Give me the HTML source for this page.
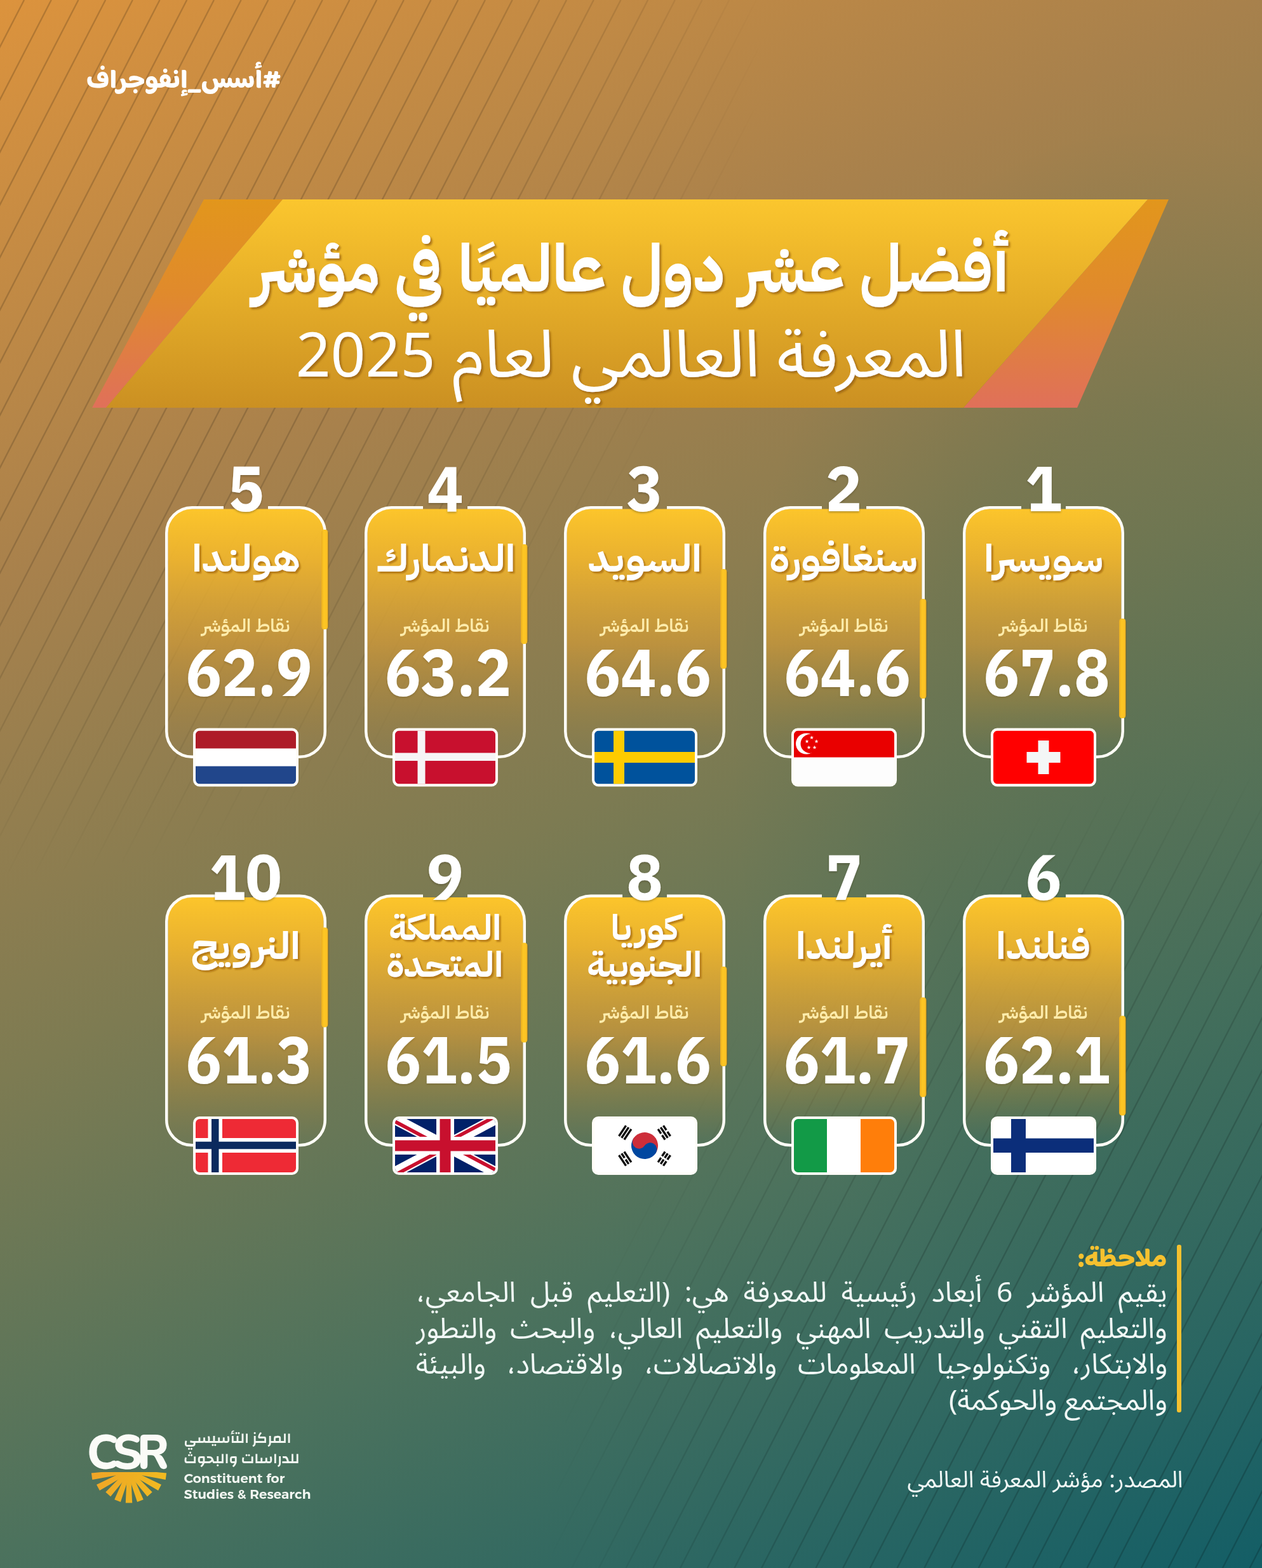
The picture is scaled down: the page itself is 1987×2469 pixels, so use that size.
<!DOCTYPE html>
<html lang="ar">
<head>
<meta charset="utf-8">
<title>أفضل عشر دول عالميًا في مؤشر المعرفة العالمي لعام 2025</title>
<style>html,body{margin:0;padding:0}body{width:1987px;height:2469px;position:relative;overflow:hidden;background:linear-gradient(155deg,#dc933d 0.0%,#a8814c 27.0%,#7d7b52 50.0%,#4c725d 72.0%,#135e66 100.0%);font-family:"Liberation Sans","DejaVu Sans",sans-serif}#bg{position:absolute;left:0;top:0;display:block}</style>
</head>
<body>
<svg id="bg" width="1987" height="2469" viewBox="0 0 1987 2469">
<defs>
<radialGradient id="lmask1" gradientUnits="userSpaceOnUse" cx="0" cy="0" r="1000" gradientTransform="scale(1.2,1.38)">
<stop offset="0" stop-color="#fff" stop-opacity="1"/><stop offset="0.6" stop-color="#fff" stop-opacity=".85"/><stop offset="0.85" stop-color="#fff" stop-opacity=".45"/><stop offset="1" stop-color="#fff" stop-opacity="0"/>
</radialGradient>
<radialGradient id="lmask2" gradientUnits="userSpaceOnUse" cx="0" cy="0" r="1000" gradientTransform="translate(1987,2469) scale(1.12,1.25)">
<stop offset="0" stop-color="#fff" stop-opacity="1"/><stop offset="0.6" stop-color="#fff" stop-opacity=".85"/><stop offset="0.85" stop-color="#fff" stop-opacity=".45"/><stop offset="1" stop-color="#fff" stop-opacity="0"/>
</radialGradient>
<mask id="lm" maskUnits="userSpaceOnUse" x="0" y="0" width="1987" height="2469"><rect width="1987" height="2469" fill="url(#lmask1)"/><rect width="1987" height="2469" fill="url(#lmask2)"/></mask>
<radialGradient id="tint" gradientUnits="userSpaceOnUse" cx="0" cy="0" r="1" gradientTransform="translate(1800,1200) scale(650,1000)"><stop offset="0" stop-color="#195a50" stop-opacity=".17"/><stop offset="0.55" stop-color="#195a50" stop-opacity=".13"/><stop offset="1" stop-color="#195a50" stop-opacity="0"/></radialGradient>
<linearGradient id="gold" x1="0" y1="0" x2="0" y2="1"><stop offset="0" stop-color="#fbc62e"/><stop offset="1" stop-color="#cb9022"/></linearGradient>
<linearGradient id="orl" x1="0" y1="0" x2="0" y2="1"><stop offset="0" stop-color="#e2961c"/><stop offset="0.45" stop-color="#e08a2c"/><stop offset="1" stop-color="#e0705a"/></linearGradient>
<linearGradient id="cardg" x1="0" y1="0" x2="0" y2="1"><stop offset="0" stop-color="#fcc52b" stop-opacity="1"/><stop offset="0.2" stop-color="#eeb42e" stop-opacity=".95"/><stop offset="0.55" stop-color="#c9973a" stop-opacity=".8"/><stop offset="0.85" stop-color="#b08a3a" stop-opacity=".25"/><stop offset="1" stop-color="#a08040" stop-opacity="0"/></linearGradient>
<linearGradient id="barg" x1="0" y1="0" x2="1" y2="0"><stop offset="0" stop-color="#e9ad22"/><stop offset="0.35" stop-color="#fdc623"/><stop offset="0.8" stop-color="#fbc224"/><stop offset="1" stop-color="#e3a421"/></linearGradient>
<linearGradient id="markg" gradientUnits="userSpaceOnUse" x1="144" y1="2318" x2="262" y2="2366"><stop offset="0" stop-color="#f0a428"/><stop offset="0.5" stop-color="#eeb022"/><stop offset="1" stop-color="#f3bd20"/></linearGradient>
<clipPath id="fclip"><rect width="158" height="84" rx="6.5"/></clipPath>
<filter id="shT" x="-5%" y="-30%" width="110%" height="170%"><feDropShadow dx="3" dy="3" stdDeviation="1.5" flood-color="#965f0a" flood-opacity=".75"/></filter>
<filter id="shN" x="-10%" y="-40%" width="125%" height="190%"><feDropShadow dx="3" dy="3" stdDeviation="1" flood-color="#aa6e0a" flood-opacity=".8"/></filter>
<filter id="shR" x="-20%" y="-20%" width="140%" height="150%"><feDropShadow dx="0" dy="2" stdDeviation="1.5" flood-color="#3c3214" flood-opacity=".35"/></filter>
<filter id="shS" x="-10%" y="-20%" width="120%" height="150%"><feDropShadow dx="0" dy="2" stdDeviation="1.5" flood-color="#5a4614" flood-opacity=".3"/></filter>
</defs>
<rect width="1987" height="2469" fill="url(#tint)"/>
<g mask="url(#lm)"><path d="M38.0,0L-1234.8,2469 M80.7,0L-1192.1,2469 M123.4,0L-1149.4,2469 M166.1,0L-1106.7,2469 M208.8,0L-1064.0,2469 M251.5,0L-1021.3,2469 M294.2,0L-978.6,2469 M336.9,0L-935.9,2469 M379.6,0L-893.2,2469 M422.3,0L-850.5,2469 M465.0,0L-807.8,2469 M507.7,0L-765.1,2469 M550.4,0L-722.4,2469 M593.1,0L-679.7,2469 M635.8,0L-637.0,2469 M678.5,0L-594.3,2469 M721.2,0L-551.6,2469 M763.9,0L-508.9,2469 M806.6,0L-466.2,2469 M849.3,0L-423.5,2469 M892.0,0L-380.8,2469 M934.7,0L-338.1,2469 M977.4,0L-295.4,2469 M1020.1,0L-252.7,2469 M1062.8,0L-210.0,2469 M1105.5,0L-167.3,2469 M1148.2,0L-124.6,2469 M1190.9,0L-81.9,2469 M1233.6,0L-39.2,2469 M1276.3,0L3.5,2469 M1319.0,0L46.2,2469 M1361.7,0L88.9,2469 M1404.4,0L131.6,2469 M1447.1,0L174.3,2469 M1489.8,0L217.0,2469 M1532.5,0L259.7,2469 M1575.2,0L302.4,2469 M1617.9,0L345.1,2469 M1660.6,0L387.8,2469 M1703.3,0L430.5,2469 M1746.0,0L473.2,2469 M1788.7,0L515.9,2469 M1831.4,0L558.6,2469 M1874.1,0L601.3,2469 M1916.8,0L644.0,2469 M1959.5,0L686.7,2469 M2002.2,0L729.4,2469 M2044.9,0L772.1,2469 M2087.6,0L814.8,2469 M2130.3,0L857.5,2469 M2173.0,0L900.2,2469 M2215.7,0L942.9,2469 M2258.4,0L985.6,2469 M2301.1,0L1028.3,2469 M2343.8,0L1071.0,2469 M2386.5,0L1113.7,2469 M2429.2,0L1156.4,2469 M2471.9,0L1199.1,2469 M2514.6,0L1241.8,2469 M2557.3,0L1284.5,2469 M2600.0,0L1327.2,2469 M2642.7,0L1369.9,2469 M2685.4,0L1412.6,2469 M2728.1,0L1455.3,2469 M2770.8,0L1498.0,2469 M2813.5,0L1540.7,2469 M2856.2,0L1583.4,2469 M2898.9,0L1626.1,2469 M2941.6,0L1668.8,2469 M2984.3,0L1711.5,2469 M3027.0,0L1754.2,2469 M3069.7,0L1796.9,2469 M3112.4,0L1839.6,2469 M3155.1,0L1882.3,2469 M3197.8,0L1925.0,2469 M3240.5,0L1967.7,2469 M3283.2,0L2010.4,2469" fill="none" stroke="#000" stroke-opacity=".18" stroke-width="2.4"/></g>
<g id="banner">
<polygon points="321,314 445,314 167,642 145,642" fill="url(#orl)"/>
<polygon points="1807,314 1840,314 1696,642 1517,642" fill="url(#orl)"/>
<polygon points="445,314 1807,314 1517,642 167,642" fill="url(#gold)"/>
</g>
<rect x="1853" y="1960" width="7" height="264" rx="3" fill="#f6c12f"/>
<g id="mark" fill="url(#markg)"><clipPath id="mclip"><rect x="140" y="2318" width="126" height="60"/></clipPath><g clip-path="url(#mclip)"><polygon points="197.5,2320.5 145.3,2329.9 143.9,2319.6 196.6,2314.2"/><polygon points="199.2,2322.1 156.9,2346.9 152.0,2337.7 196.2,2316.5"/><polygon points="201.4,2323.1 174.1,2356.4 166.3,2349.4 196.6,2318.8"/><polygon points="203.8,2323.2 189.9,2365.0 180.2,2361.3 197.9,2321.0"/><polygon points="206.2,2322.5 208.2,2366.5 197.8,2366.5 199.8,2322.5"/><polygon points="208.1,2321.0 225.8,2361.3 216.1,2365.0 202.2,2323.2"/><polygon points="209.4,2318.8 239.7,2349.4 231.9,2356.4 204.6,2323.1"/><polygon points="209.8,2316.5 254.0,2337.7 249.1,2346.9 206.8,2322.1"/><polygon points="209.4,2314.2 262.1,2319.6 260.7,2329.9 208.5,2320.5"/><path d="M187,2317.5 A16,17 0 0 0 219,2317.5 Z"/></g></g>
<g transform="translate(1516,797)">
<rect x="4.5" y="4.5" width="245.0" height="388.0" rx="35.5" ry="35.5" fill="url(#cardg)"/>
<path d="M162.0,2.25 H211.75 A40,40 0 0 1 251.75,42.25 V354.75 A40,40 0 0 1 211.75,394.75 H42.25 A40,40 0 0 1 2.25,354.75 V42.25 A40,40 0 0 1 42.25,2.25 H92.0" fill="none" stroke="#fffdf6" stroke-width="4.5"/>
<rect x="255.5" y="181" width="2.5" height="150" fill="#5a4a10" fill-opacity=".28"/><rect x="246" y="177" width="10.5" height="157" rx="4.5" fill="url(#barg)"/>
<g transform="translate(44,349.5)"><rect width="166" height="92" rx="10" fill="#fffdf8"/><g transform="translate(4,4)" clip-path="url(#fclip)"><rect width="158" height="84" fill="#ff0000"/><rect x="70.5" y="15.5" width="17" height="53" fill="#f4f6f6"/><rect x="52.5" y="33.5" width="53" height="17" fill="#f4f6f6"/></g></g>
</g>
<g transform="translate(1202,797)">
<rect x="4.5" y="4.5" width="245.0" height="388.0" rx="35.5" ry="35.5" fill="url(#cardg)"/>
<path d="M162.0,2.25 H211.75 A40,40 0 0 1 251.75,42.25 V354.75 A40,40 0 0 1 211.75,394.75 H42.25 A40,40 0 0 1 2.25,354.75 V42.25 A40,40 0 0 1 42.25,2.25 H92.0" fill="none" stroke="#fffdf6" stroke-width="4.5"/>
<rect x="255.5" y="150" width="2.5" height="150" fill="#5a4a10" fill-opacity=".28"/><rect x="246" y="146" width="10.5" height="157" rx="4.5" fill="url(#barg)"/>
<g transform="translate(44,349.5)"><rect width="166" height="92" rx="10" fill="#fffdf8"/><g transform="translate(4,4)" clip-path="url(#fclip)"><rect width="158" height="84" fill="#fdfdfd"/><rect width="158" height="42" fill="#e90000"/><circle cx="19.5" cy="20.5" r="16.5" fill="#fff"/><circle cx="25.5" cy="20.5" r="15" fill="#e90000"/><g fill="#fff"><path transform="translate(28,11)" d="M0,-3.2L0.85,-1.05L3.05,-1L1.3,0.35L1.9,2.6L0,1.3L-1.9,2.6L-1.3,0.35L-3.05,-1L-0.85,-1.05Z"/><path transform="translate(20.5,17)" d="M0,-3.2L0.85,-1.05L3.05,-1L1.3,0.35L1.9,2.6L0,1.3L-1.9,2.6L-1.3,0.35L-3.05,-1L-0.85,-1.05Z"/><path transform="translate(35.5,17)" d="M0,-3.2L0.85,-1.05L3.05,-1L1.3,0.35L1.9,2.6L0,1.3L-1.9,2.6L-1.3,0.35L-3.05,-1L-0.85,-1.05Z"/><path transform="translate(23.5,26.5)" d="M0,-3.2L0.85,-1.05L3.05,-1L1.3,0.35L1.9,2.6L0,1.3L-1.9,2.6L-1.3,0.35L-3.05,-1L-0.85,-1.05Z"/><path transform="translate(32.5,26.5)" d="M0,-3.2L0.85,-1.05L3.05,-1L1.3,0.35L1.9,2.6L0,1.3L-1.9,2.6L-1.3,0.35L-3.05,-1L-0.85,-1.05Z"/></g></g></g>
</g>
<g transform="translate(888,797)">
<rect x="4.5" y="4.5" width="245.0" height="388.0" rx="35.5" ry="35.5" fill="url(#cardg)"/>
<path d="M162.0,2.25 H211.75 A40,40 0 0 1 251.75,42.25 V354.75 A40,40 0 0 1 211.75,394.75 H42.25 A40,40 0 0 1 2.25,354.75 V42.25 A40,40 0 0 1 42.25,2.25 H92.0" fill="none" stroke="#fffdf6" stroke-width="4.5"/>
<rect x="255.5" y="103" width="2.5" height="150" fill="#5a4a10" fill-opacity=".28"/><rect x="246" y="99" width="10.5" height="157" rx="4.5" fill="url(#barg)"/>
<g transform="translate(44,349.5)"><rect width="166" height="92" rx="10" fill="#fffdf8"/><g transform="translate(4,4)" clip-path="url(#fclip)"><rect width="158" height="84" fill="#00529c"/><rect x="30" width="17" height="84" fill="#fecb00"/><rect y="33.5" width="158" height="17" fill="#fecb00"/></g></g>
</g>
<g transform="translate(574,797)">
<rect x="4.5" y="4.5" width="245.0" height="388.0" rx="35.5" ry="35.5" fill="url(#cardg)"/>
<path d="M162.0,2.25 H211.75 A40,40 0 0 1 251.75,42.25 V354.75 A40,40 0 0 1 211.75,394.75 H42.25 A40,40 0 0 1 2.25,354.75 V42.25 A40,40 0 0 1 42.25,2.25 H92.0" fill="none" stroke="#fffdf6" stroke-width="4.5"/>
<rect x="255.5" y="64" width="2.5" height="150" fill="#5a4a10" fill-opacity=".28"/><rect x="246" y="60" width="10.5" height="157" rx="4.5" fill="url(#barg)"/>
<g transform="translate(44,349.5)"><rect width="166" height="92" rx="10" fill="#fffdf8"/><g transform="translate(4,4)" clip-path="url(#fclip)"><rect width="158" height="84" fill="#c8102e"/><rect x="35.5" width="12" height="84" fill="#f6f4f6"/><rect y="35" width="158" height="12.5" fill="#f6f4f6"/></g></g>
</g>
<g transform="translate(260,797)">
<rect x="4.5" y="4.5" width="245.0" height="388.0" rx="35.5" ry="35.5" fill="url(#cardg)"/>
<path d="M162.0,2.25 H211.75 A40,40 0 0 1 251.75,42.25 V354.75 A40,40 0 0 1 211.75,394.75 H42.25 A40,40 0 0 1 2.25,354.75 V42.25 A40,40 0 0 1 42.25,2.25 H92.0" fill="none" stroke="#fffdf6" stroke-width="4.5"/>
<rect x="255.5" y="41" width="2.5" height="150" fill="#5a4a10" fill-opacity=".28"/><rect x="246" y="37" width="10.5" height="157" rx="4.5" fill="url(#barg)"/>
<g transform="translate(44,349.5)"><rect width="166" height="92" rx="10" fill="#fffdf8"/><g transform="translate(4,4)" clip-path="url(#fclip)"><rect width="158" height="84" fill="#fff"/><rect width="158" height="28" fill="#ae1c28"/><rect y="56" width="158" height="28" fill="#21468b"/></g></g>
</g>
<g transform="translate(1516,1408.5)">
<rect x="4.5" y="4.5" width="245.0" height="388.0" rx="35.5" ry="35.5" fill="url(#cardg)"/>
<path d="M162.0,2.25 H211.75 A40,40 0 0 1 251.75,42.25 V354.75 A40,40 0 0 1 211.75,394.75 H42.25 A40,40 0 0 1 2.25,354.75 V42.25 A40,40 0 0 1 42.25,2.25 H92.0" fill="none" stroke="#fffdf6" stroke-width="4.5"/>
<rect x="255.5" y="195" width="2.5" height="150" fill="#5a4a10" fill-opacity=".28"/><rect x="246" y="191" width="10.5" height="157" rx="4.5" fill="url(#barg)"/>
<g transform="translate(44,349.5)"><rect width="166" height="92" rx="10" fill="#fffdf8"/><g transform="translate(4,4)" clip-path="url(#fclip)"><rect width="158" height="84" fill="#fff"/><rect x="28" width="23" height="84" fill="#0b2e7a"/><rect y="30.5" width="158" height="22.5" fill="#0b2e7a"/></g></g>
</g>
<g transform="translate(1202,1408.5)">
<rect x="4.5" y="4.5" width="245.0" height="388.0" rx="35.5" ry="35.5" fill="url(#cardg)"/>
<path d="M162.0,2.25 H211.75 A40,40 0 0 1 251.75,42.25 V354.75 A40,40 0 0 1 211.75,394.75 H42.25 A40,40 0 0 1 2.25,354.75 V42.25 A40,40 0 0 1 42.25,2.25 H92.0" fill="none" stroke="#fffdf6" stroke-width="4.5"/>
<rect x="255.5" y="166" width="2.5" height="150" fill="#5a4a10" fill-opacity=".28"/><rect x="246" y="162" width="10.5" height="157" rx="4.5" fill="url(#barg)"/>
<g transform="translate(44,349.5)"><rect width="166" height="92" rx="10" fill="#fffdf8"/><g transform="translate(4,4)" clip-path="url(#fclip)"><rect width="158" height="84" fill="#fff"/><rect width="52" height="84" fill="#129a47"/><rect x="105" width="53" height="84" fill="#ff7e0a"/></g></g>
</g>
<g transform="translate(888,1408.5)">
<rect x="4.5" y="4.5" width="245.0" height="388.0" rx="35.5" ry="35.5" fill="url(#cardg)"/>
<path d="M162.0,2.25 H211.75 A40,40 0 0 1 251.75,42.25 V354.75 A40,40 0 0 1 211.75,394.75 H42.25 A40,40 0 0 1 2.25,354.75 V42.25 A40,40 0 0 1 42.25,2.25 H92.0" fill="none" stroke="#fffdf6" stroke-width="4.5"/>
<rect x="255.5" y="117.5" width="2.5" height="150" fill="#5a4a10" fill-opacity=".28"/><rect x="246" y="113.5" width="10.5" height="157" rx="4.5" fill="url(#barg)"/>
<g transform="translate(44,349.5)"><rect width="166" height="92" rx="10" fill="#fffdf8"/><g transform="translate(4,4)" clip-path="url(#fclip)"><rect width="158" height="84" fill="#fff"/>
<g transform="translate(79,42)">
<g transform="rotate(33.7)"><path d="M-21,0 A21,21 0 0 1 21,0 Z" fill="#cd2e3a"/><path d="M-21,0 A21,21 0 0 0 21,0 Z" fill="#0047a0"/><circle cx="-10.5" cy="0" r="10.5" fill="#cd2e3a"/><circle cx="10.5" cy="0" r="10.5" fill="#0047a0"/></g>
<g stroke="#111" stroke-width="3.4">
<g transform="rotate(33.7)"><path d="M-42,-10V10M-37,-10V10M-32,-10V10"/><path d="M32,-10V-1.5M32,1.5V10M37,-10V-1.5M37,1.5V10M42,-10V-1.5M42,1.5V10"/></g>
<g transform="rotate(-33.7)"><path d="M-42,-10V10M-37,-10V-1.5M-37,1.5V10M-32,-10V10"/><path d="M32,-10V-1.5M32,1.5V10M37,-10V10M42,-10V-1.5M42,1.5V10"/></g>
</g></g></g></g>
</g>
<g transform="translate(574,1408.5)">
<rect x="4.5" y="4.5" width="245.0" height="388.0" rx="35.5" ry="35.5" fill="url(#cardg)"/>
<path d="M162.0,2.25 H211.75 A40,40 0 0 1 251.75,42.25 V354.75 A40,40 0 0 1 211.75,394.75 H42.25 A40,40 0 0 1 2.25,354.75 V42.25 A40,40 0 0 1 42.25,2.25 H92.0" fill="none" stroke="#fffdf6" stroke-width="4.5"/>
<rect x="255.5" y="80" width="2.5" height="150" fill="#5a4a10" fill-opacity=".28"/><rect x="246" y="76" width="10.5" height="157" rx="4.5" fill="url(#barg)"/>
<g transform="translate(44,349.5)"><rect width="166" height="92" rx="10" fill="#fffdf8"/><g transform="translate(4,4)" clip-path="url(#fclip)"><rect width="158" height="84" fill="#012169"/>
<path d="M0,0L158,84M158,0L0,84" stroke="#fff" stroke-width="17"/>
<path d="M0,0L79,42" stroke="#c8102e" stroke-width="5.6" transform="translate(-2.6,2.6)"/>
<path d="M79,42L158,84" stroke="#c8102e" stroke-width="5.6" transform="translate(2.6,-2.6)"/>
<path d="M158,0L79,42" stroke="#c8102e" stroke-width="5.6" transform="translate(-2.6,-2.6)"/>
<path d="M79,42L0,84" stroke="#c8102e" stroke-width="5.6" transform="translate(2.6,2.6)"/>
<path d="M79,0V84M0,42H158" stroke="#fff" stroke-width="28"/>
<path d="M79,0V84M0,42H158" stroke="#c8102e" stroke-width="17"/></g></g>
</g>
<g transform="translate(260,1408.5)">
<rect x="4.5" y="4.5" width="245.0" height="388.0" rx="35.5" ry="35.5" fill="url(#cardg)"/>
<path d="M162.0,2.25 H211.75 A40,40 0 0 1 251.75,42.25 V354.75 A40,40 0 0 1 211.75,394.75 H42.25 A40,40 0 0 1 2.25,354.75 V42.25 A40,40 0 0 1 42.25,2.25 H92.0" fill="none" stroke="#fffdf6" stroke-width="4.5"/>
<rect x="255.5" y="56" width="2.5" height="150" fill="#5a4a10" fill-opacity=".28"/><rect x="246" y="52" width="10.5" height="157" rx="4.5" fill="url(#barg)"/>
<g transform="translate(44,349.5)"><rect width="166" height="92" rx="10" fill="#fffdf8"/><g transform="translate(4,4)" clip-path="url(#fclip)"><rect width="158" height="84" fill="#ee2a35"/><rect x="19.5" width="22.5" height="84" fill="#fff"/><rect y="30" width="158" height="23" fill="#fff"/><rect x="25" width="11.5" height="84" fill="#0b2a5e"/><rect y="35.7" width="158" height="11.6" fill="#0b2a5e"/></g></g>
</g>
<text id="hash" x="289.0" y="137.5" text-anchor="middle" direction="rtl" font-family="'Baloo Bhaijaan 2','Cairo','IBM Plex Sans Arabic','Liberation Sans','DejaVu Sans',sans-serif" font-weight="800" font-size="41.1" fill="#fff" textLength="307.2" lengthAdjust="spacingAndGlyphs">#أسس_إنفوجراف</text>
<text id="t1" x="993.5" y="459.0" text-anchor="middle" direction="rtl" font-family="'IBM Plex Sans Arabic','Noto Sans Arabic','Liberation Sans','DejaVu Sans',sans-serif" font-weight="700" font-size="103.5" fill="#fff" textLength="1189.9" lengthAdjust="spacingAndGlyphs" filter="url(#shT)">أفضل عشر دول عالميًا في مؤشر</text>
<text id="t2" x="993.5" y="593.0" text-anchor="middle" direction="rtl" font-family="'Noto Sans Arabic','IBM Plex Sans Arabic','Liberation Sans','DejaVu Sans',sans-serif" font-weight="400" font-size="103" fill="#fff" textLength="1055.6" lengthAdjust="spacingAndGlyphs" filter="url(#shT)">المعرفة العالمي لعام <tspan font-size="96">2025</tspan></text>
<text id="r1" x="1643.0" y="805.0" text-anchor="middle" font-family="'IBM Plex Sans Arabic','Noto Sans Arabic','Liberation Sans','DejaVu Sans',sans-serif" font-weight="700" font-size="100.5" fill="#fff" textLength="58.1" lengthAdjust="spacingAndGlyphs" filter="url(#shR)">1</text>
<text id="n1" x="1643.0" y="900.0" text-anchor="middle" direction="rtl" font-family="'IBM Plex Sans Arabic','Noto Sans Arabic','Liberation Sans','DejaVu Sans',sans-serif" font-weight="700" font-size="59" fill="#fff" textLength="187.3" lengthAdjust="spacingAndGlyphs" filter="url(#shN)">سويسرا</text>
<text id="l1" x="1643.0" y="995.0" text-anchor="middle" direction="rtl" font-family="'IBM Plex Sans Arabic','Noto Sans Arabic','Liberation Sans','DejaVu Sans',sans-serif" font-weight="600" font-size="28.5" fill="#ffecab" textLength="138.6" lengthAdjust="spacingAndGlyphs">نقاط المؤشر</text>
<text id="s1" x="1648.0" y="1096.0" text-anchor="middle" font-family="'IBM Plex Sans Arabic','Noto Sans Arabic','Liberation Sans','DejaVu Sans',sans-serif" font-weight="700" font-size="104.5" fill="#fff" textLength="199.7" lengthAdjust="spacingAndGlyphs" filter="url(#shS)">67.8</text>
<text id="r2" x="1328.5" y="805.0" text-anchor="middle" font-family="'IBM Plex Sans Arabic','Noto Sans Arabic','Liberation Sans','DejaVu Sans',sans-serif" font-weight="700" font-size="100.5" fill="#fff" textLength="57.9" lengthAdjust="spacingAndGlyphs" filter="url(#shR)">2</text>
<text id="n2" x="1328.5" y="900.0" text-anchor="middle" direction="rtl" font-family="'IBM Plex Sans Arabic','Noto Sans Arabic','Liberation Sans','DejaVu Sans',sans-serif" font-weight="700" font-size="59" fill="#fff" textLength="231.8" lengthAdjust="spacingAndGlyphs" filter="url(#shN)">سنغافورة</text>
<text id="l2" x="1329.0" y="995.0" text-anchor="middle" direction="rtl" font-family="'IBM Plex Sans Arabic','Noto Sans Arabic','Liberation Sans','DejaVu Sans',sans-serif" font-weight="600" font-size="28.5" fill="#ffecab" textLength="138.6" lengthAdjust="spacingAndGlyphs">نقاط المؤشر</text>
<text id="s2" x="1334.0" y="1096.0" text-anchor="middle" font-family="'IBM Plex Sans Arabic','Noto Sans Arabic','Liberation Sans','DejaVu Sans',sans-serif" font-weight="700" font-size="104.5" fill="#fff" textLength="199.7" lengthAdjust="spacingAndGlyphs" filter="url(#shS)">64.6</text>
<text id="r3" x="1015.0" y="805.0" text-anchor="middle" font-family="'IBM Plex Sans Arabic','Noto Sans Arabic','Liberation Sans','DejaVu Sans',sans-serif" font-weight="700" font-size="100.5" fill="#fff" textLength="56.9" lengthAdjust="spacingAndGlyphs" filter="url(#shR)">3</text>
<text id="n3" x="1015.0" y="900.0" text-anchor="middle" direction="rtl" font-family="'IBM Plex Sans Arabic','Noto Sans Arabic','Liberation Sans','DejaVu Sans',sans-serif" font-weight="700" font-size="59" fill="#fff" textLength="179.2" lengthAdjust="spacingAndGlyphs" filter="url(#shN)">السويد</text>
<text id="l3" x="1015.0" y="995.0" text-anchor="middle" direction="rtl" font-family="'IBM Plex Sans Arabic','Noto Sans Arabic','Liberation Sans','DejaVu Sans',sans-serif" font-weight="600" font-size="28.5" fill="#ffecab" textLength="138.6" lengthAdjust="spacingAndGlyphs">نقاط المؤشر</text>
<text id="s3" x="1020.0" y="1096.0" text-anchor="middle" font-family="'IBM Plex Sans Arabic','Noto Sans Arabic','Liberation Sans','DejaVu Sans',sans-serif" font-weight="700" font-size="104.5" fill="#fff" textLength="199.7" lengthAdjust="spacingAndGlyphs" filter="url(#shS)">64.6</text>
<text id="r4" x="701.0" y="805.0" text-anchor="middle" font-family="'IBM Plex Sans Arabic','Noto Sans Arabic','Liberation Sans','DejaVu Sans',sans-serif" font-weight="700" font-size="100.5" fill="#fff" textLength="58.1" lengthAdjust="spacingAndGlyphs" filter="url(#shR)">4</text>
<text id="n4" x="701.5" y="900.0" text-anchor="middle" direction="rtl" font-family="'IBM Plex Sans Arabic','Noto Sans Arabic','Liberation Sans','DejaVu Sans',sans-serif" font-weight="700" font-size="59" fill="#fff" textLength="219.2" lengthAdjust="spacingAndGlyphs" filter="url(#shN)">الدنمارك</text>
<text id="l4" x="701.0" y="995.0" text-anchor="middle" direction="rtl" font-family="'IBM Plex Sans Arabic','Noto Sans Arabic','Liberation Sans','DejaVu Sans',sans-serif" font-weight="600" font-size="28.5" fill="#ffecab" textLength="138.6" lengthAdjust="spacingAndGlyphs">نقاط المؤشر</text>
<text id="s4" x="705.5" y="1096.0" text-anchor="middle" font-family="'IBM Plex Sans Arabic','Noto Sans Arabic','Liberation Sans','DejaVu Sans',sans-serif" font-weight="700" font-size="104.5" fill="#fff" textLength="199.6" lengthAdjust="spacingAndGlyphs" filter="url(#shS)">63.2</text>
<text id="r5" x="387.5" y="805.0" text-anchor="middle" font-family="'IBM Plex Sans Arabic','Noto Sans Arabic','Liberation Sans','DejaVu Sans',sans-serif" font-weight="700" font-size="100.5" fill="#fff" textLength="56.8" lengthAdjust="spacingAndGlyphs" filter="url(#shR)">5</text>
<text id="n5" x="387.0" y="900.0" text-anchor="middle" direction="rtl" font-family="'IBM Plex Sans Arabic','Noto Sans Arabic','Liberation Sans','DejaVu Sans',sans-serif" font-weight="700" font-size="59" fill="#fff" textLength="169.7" lengthAdjust="spacingAndGlyphs" filter="url(#shN)">هولندا</text>
<text id="l5" x="387.0" y="995.0" text-anchor="middle" direction="rtl" font-family="'IBM Plex Sans Arabic','Noto Sans Arabic','Liberation Sans','DejaVu Sans',sans-serif" font-weight="600" font-size="28.5" fill="#ffecab" textLength="138.6" lengthAdjust="spacingAndGlyphs">نقاط المؤشر</text>
<text id="s5" x="392.0" y="1096.0" text-anchor="middle" font-family="'IBM Plex Sans Arabic','Noto Sans Arabic','Liberation Sans','DejaVu Sans',sans-serif" font-weight="700" font-size="104.5" fill="#fff" textLength="199.7" lengthAdjust="spacingAndGlyphs" filter="url(#shS)">62.9</text>
<text id="r6" x="1643.0" y="1417.0" text-anchor="middle" font-family="'IBM Plex Sans Arabic','Noto Sans Arabic','Liberation Sans','DejaVu Sans',sans-serif" font-weight="700" font-size="100.5" fill="#fff" textLength="56.9" lengthAdjust="spacingAndGlyphs" filter="url(#shR)">6</text>
<text id="n6" x="1642.5" y="1510.0" text-anchor="middle" direction="rtl" font-family="'IBM Plex Sans Arabic','Noto Sans Arabic','Liberation Sans','DejaVu Sans',sans-serif" font-weight="700" font-size="59" fill="#fff" textLength="148.4" lengthAdjust="spacingAndGlyphs" filter="url(#shN)">فنلندا</text>
<text id="l6" x="1643.0" y="1604.0" text-anchor="middle" direction="rtl" font-family="'IBM Plex Sans Arabic','Noto Sans Arabic','Liberation Sans','DejaVu Sans',sans-serif" font-weight="600" font-size="28.5" fill="#ffecab" textLength="138.6" lengthAdjust="spacingAndGlyphs">نقاط المؤشر</text>
<text id="s6" x="1648.0" y="1706.0" text-anchor="middle" font-family="'IBM Plex Sans Arabic','Noto Sans Arabic','Liberation Sans','DejaVu Sans',sans-serif" font-weight="700" font-size="104.5" fill="#fff" textLength="199.9" lengthAdjust="spacingAndGlyphs" filter="url(#shS)">62.1</text>
<text id="r7" x="1329.0" y="1417.0" text-anchor="middle" font-family="'IBM Plex Sans Arabic','Noto Sans Arabic','Liberation Sans','DejaVu Sans',sans-serif" font-weight="700" font-size="100.5" fill="#fff" textLength="57.9" lengthAdjust="spacingAndGlyphs" filter="url(#shR)">7</text>
<text id="n7" x="1329.0" y="1510.0" text-anchor="middle" direction="rtl" font-family="'IBM Plex Sans Arabic','Noto Sans Arabic','Liberation Sans','DejaVu Sans',sans-serif" font-weight="700" font-size="59" fill="#fff" textLength="151.9" lengthAdjust="spacingAndGlyphs" filter="url(#shN)">أيرلندا</text>
<text id="l7" x="1329.0" y="1604.0" text-anchor="middle" direction="rtl" font-family="'IBM Plex Sans Arabic','Noto Sans Arabic','Liberation Sans','DejaVu Sans',sans-serif" font-weight="600" font-size="28.5" fill="#ffecab" textLength="138.6" lengthAdjust="spacingAndGlyphs">نقاط المؤشر</text>
<text id="s7" x="1333.5" y="1706.0" text-anchor="middle" font-family="'IBM Plex Sans Arabic','Noto Sans Arabic','Liberation Sans','DejaVu Sans',sans-serif" font-weight="700" font-size="104.5" fill="#fff" textLength="199.6" lengthAdjust="spacingAndGlyphs" filter="url(#shS)">61.7</text>
<text id="r8" x="1015.0" y="1417.0" text-anchor="middle" font-family="'IBM Plex Sans Arabic','Noto Sans Arabic','Liberation Sans','DejaVu Sans',sans-serif" font-weight="700" font-size="100.5" fill="#fff" textLength="58.0" lengthAdjust="spacingAndGlyphs" filter="url(#shR)">8</text>
<text id="n8a" x="1015.0" y="1480.0" text-anchor="middle" direction="rtl" font-family="'IBM Plex Sans Arabic','Noto Sans Arabic','Liberation Sans','DejaVu Sans',sans-serif" font-weight="700" font-size="55" fill="#fff" textLength="107.0" lengthAdjust="spacingAndGlyphs" filter="url(#shN)">كوريا</text>
<text id="n8b" x="1014.5" y="1538.0" text-anchor="middle" direction="rtl" font-family="'IBM Plex Sans Arabic','Noto Sans Arabic','Liberation Sans','DejaVu Sans',sans-serif" font-weight="700" font-size="55" fill="#fff" textLength="180.8" lengthAdjust="spacingAndGlyphs" filter="url(#shN)">الجنوبية</text>
<text id="l8" x="1015.0" y="1604.0" text-anchor="middle" direction="rtl" font-family="'IBM Plex Sans Arabic','Noto Sans Arabic','Liberation Sans','DejaVu Sans',sans-serif" font-weight="600" font-size="28.5" fill="#ffecab" textLength="138.6" lengthAdjust="spacingAndGlyphs">نقاط المؤشر</text>
<text id="s8" x="1020.0" y="1706.0" text-anchor="middle" font-family="'IBM Plex Sans Arabic','Noto Sans Arabic','Liberation Sans','DejaVu Sans',sans-serif" font-weight="700" font-size="104.5" fill="#fff" textLength="199.7" lengthAdjust="spacingAndGlyphs" filter="url(#shS)">61.6</text>
<text id="r9" x="701.0" y="1417.0" text-anchor="middle" font-family="'IBM Plex Sans Arabic','Noto Sans Arabic','Liberation Sans','DejaVu Sans',sans-serif" font-weight="700" font-size="100.5" fill="#fff" textLength="58.0" lengthAdjust="spacingAndGlyphs" filter="url(#shR)">9</text>
<text id="n9a" x="700.5" y="1480.0" text-anchor="middle" direction="rtl" font-family="'IBM Plex Sans Arabic','Noto Sans Arabic','Liberation Sans','DejaVu Sans',sans-serif" font-weight="700" font-size="55" fill="#fff" textLength="176.9" lengthAdjust="spacingAndGlyphs" filter="url(#shN)">المملكة</text>
<text id="n9b" x="700.5" y="1538.0" text-anchor="middle" direction="rtl" font-family="'IBM Plex Sans Arabic','Noto Sans Arabic','Liberation Sans','DejaVu Sans',sans-serif" font-weight="700" font-size="55" fill="#fff" textLength="182.6" lengthAdjust="spacingAndGlyphs" filter="url(#shN)">المتحدة</text>
<text id="l9" x="701.0" y="1604.0" text-anchor="middle" direction="rtl" font-family="'IBM Plex Sans Arabic','Noto Sans Arabic','Liberation Sans','DejaVu Sans',sans-serif" font-weight="600" font-size="28.5" fill="#ffecab" textLength="138.6" lengthAdjust="spacingAndGlyphs">نقاط المؤشر</text>
<text id="s9" x="706.0" y="1706.0" text-anchor="middle" font-family="'IBM Plex Sans Arabic','Noto Sans Arabic','Liberation Sans','DejaVu Sans',sans-serif" font-weight="700" font-size="104.5" fill="#fff" textLength="199.7" lengthAdjust="spacingAndGlyphs" filter="url(#shS)">61.5</text>
<text id="r10" x="386.5" y="1417.0" text-anchor="middle" font-family="'IBM Plex Sans Arabic','Noto Sans Arabic','Liberation Sans','DejaVu Sans',sans-serif" font-weight="700" font-size="100.5" fill="#fff" textLength="114.2" lengthAdjust="spacingAndGlyphs" filter="url(#shR)">10</text>
<text id="n10" x="387.0" y="1510.0" text-anchor="middle" direction="rtl" font-family="'IBM Plex Sans Arabic','Noto Sans Arabic','Liberation Sans','DejaVu Sans',sans-serif" font-weight="700" font-size="59" fill="#fff" textLength="171.7" lengthAdjust="spacingAndGlyphs" filter="url(#shN)">النرويج</text>
<text id="l10" x="387.0" y="1604.0" text-anchor="middle" direction="rtl" font-family="'IBM Plex Sans Arabic','Noto Sans Arabic','Liberation Sans','DejaVu Sans',sans-serif" font-weight="600" font-size="28.5" fill="#ffecab" textLength="138.6" lengthAdjust="spacingAndGlyphs">نقاط المؤشر</text>
<text id="s10" x="392.0" y="1706.0" text-anchor="middle" font-family="'IBM Plex Sans Arabic','Noto Sans Arabic','Liberation Sans','DejaVu Sans',sans-serif" font-weight="700" font-size="104.5" fill="#fff" textLength="199.5" lengthAdjust="spacingAndGlyphs" filter="url(#shS)">61.3</text>
<text id="nh" x="1767.0" y="1994.0" text-anchor="middle" direction="rtl" font-family="'Baloo Bhaijaan 2','Cairo','IBM Plex Sans Arabic','Liberation Sans','DejaVu Sans',sans-serif" font-weight="800" font-size="41.9" fill="#f6c12f" textLength="140.7" lengthAdjust="spacingAndGlyphs">ملاحظة:</text>
<text id="np1" x="1246.5" y="2050.0" text-anchor="middle" direction="rtl" font-family="'Noto Sans Arabic','IBM Plex Sans Arabic','Liberation Sans','DejaVu Sans',sans-serif" font-weight="400" font-size="44.4" fill="#f1f8f6" word-spacing="11.29" textLength="1182.4" lengthAdjust="spacingAndGlyphs">يقيم المؤشر 6 أبعاد رئيسية للمعرفة هي: (التعليم قبل الجامعي،</text>
<text id="np2" x="1246.5" y="2107.0" text-anchor="middle" direction="rtl" font-family="'Noto Sans Arabic','IBM Plex Sans Arabic','Liberation Sans','DejaVu Sans',sans-serif" font-weight="400" font-size="44.4" fill="#f1f8f6" word-spacing="9.44" textLength="1182.5" lengthAdjust="spacingAndGlyphs">والتعليم التقني والتدريب المهني والتعليم العالي، والبحث والتطور</text>
<text id="np3" x="1246.5" y="2163.0" text-anchor="middle" direction="rtl" font-family="'Noto Sans Arabic','IBM Plex Sans Arabic','Liberation Sans','DejaVu Sans',sans-serif" font-weight="400" font-size="44.4" fill="#f1f8f6" word-spacing="21.48" textLength="1183.6" lengthAdjust="spacingAndGlyphs">والابتكار، وتكنولوجيا المعلومات والاتصالات، والاقتصاد، والبيئة</text>
<text id="np4" x="1666.0" y="2220.0" text-anchor="middle" direction="rtl" font-family="'Noto Sans Arabic','IBM Plex Sans Arabic','Liberation Sans','DejaVu Sans',sans-serif" font-weight="400" font-size="44.4" fill="#f1f8f6" textLength="344.2" lengthAdjust="spacingAndGlyphs">والمجتمع والحوكمة)</text>
<text id="src" x="1645.5" y="2342.0" text-anchor="middle" direction="rtl" font-family="'Noto Sans Arabic','IBM Plex Sans Arabic','Liberation Sans','DejaVu Sans',sans-serif" font-weight="400" font-size="36.4" fill="#f1f8f6" textLength="434.1" lengthAdjust="spacingAndGlyphs">المصدر: مؤشر المعرفة العالمي</text>
<text id="csr" x="197.5" y="2312.0" text-anchor="middle" font-family="'Nunito','Liberation Sans','DejaVu Sans',sans-serif" font-weight="800" font-size="75.4" fill="#fbfbf7" textLength="121.7" lengthAdjust="spacingAndGlyphs" letter-spacing="-8.5">CSR</text>
<text id="la1" x="374.0" y="2272.0" text-anchor="middle" direction="rtl" font-family="'Changa','Alexandria','Cairo','Liberation Sans','DejaVu Sans',sans-serif" font-weight="600" font-size="23" fill="#f3f7f2" textLength="169.1" lengthAdjust="spacingAndGlyphs">المركز التأسيسي</text>
<text id="la2" x="380.5" y="2304.0" text-anchor="middle" direction="rtl" font-family="'Changa','Alexandria','Cairo','Liberation Sans','DejaVu Sans',sans-serif" font-weight="600" font-size="23" fill="#f3f7f2" textLength="182.3" lengthAdjust="spacingAndGlyphs">للدراسات والبحوث</text>
<text id="le1" x="369.0" y="2334.5" text-anchor="middle" font-family="'Alexandria','Readex Pro','Cairo','Liberation Sans','DejaVu Sans',sans-serif" font-weight="600" font-size="20" fill="#f3f7f2" textLength="158.6" lengthAdjust="spacingAndGlyphs">Constituent for</text>
<text id="le2" x="389.5" y="2359.5" text-anchor="middle" font-family="'Alexandria','Readex Pro','Cairo','Liberation Sans','DejaVu Sans',sans-serif" font-weight="600" font-size="20" fill="#f3f7f2" textLength="199.9" lengthAdjust="spacingAndGlyphs">Studies &amp; Research</text>
</svg>
</body>
</html>
